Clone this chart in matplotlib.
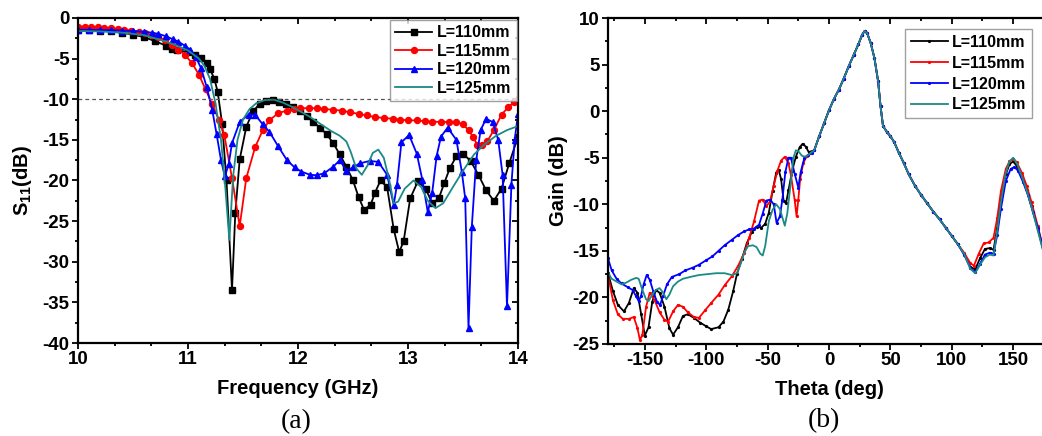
import matplotlib
matplotlib.use('Agg')
import matplotlib.pyplot as plt
from matplotlib.ticker import MultipleLocator, AutoMinorLocator

plt.rcParams['font.family'] = ['Liberation Sans', 'DejaVu Sans']
plt.rcParams['font.weight'] = 'bold'
plt.rcParams['axes.unicode_minus'] = False
plt.rcParams['mathtext.fontset'] = 'custom'
plt.rcParams['mathtext.rm'] = 'Liberation Sans:bold'
plt.rcParams['mathtext.bf'] = 'Liberation Sans:bold'

# =========================
# DATA (a) S11 vs frequency
# =========================
f_110 = [10.0, 10.1, 10.2, 10.3, 10.4, 10.5, 10.6, 10.7, 10.8, 10.85, 10.9, 11.0, 11.06, 11.12,
         11.17, 11.2, 11.24, 11.27, 11.31, 11.35, 11.40, 11.43, 11.47, 11.53, 11.59, 11.65, 11.71,
         11.77, 11.83, 11.89, 11.95, 12.02, 12.08, 12.14, 12.2, 12.26, 12.32, 12.38, 12.44, 12.50,
         12.55, 12.60, 12.66, 12.70, 12.75, 12.81, 12.87, 12.92, 12.96, 13.02, 13.09, 13.16, 13.22,
         13.28, 13.33, 13.38, 13.44, 13.50, 13.57, 13.64, 13.71, 13.78, 13.85, 13.92, 13.99, 14.0]
s11_110 = [-1.5, -1.5, -1.55, -1.65, -1.8, -2.05, -2.35, -2.85, -3.4, -3.8, -3.95, -4.2, -4.5, -4.9,
           -5.6, -6.3, -7.5, -9.1, -13.0, -20.0, -33.5, -24.0, -17.4, -13.4, -11.5, -10.6, -10.25,
           -10.15, -10.3, -10.6, -11.0, -11.5, -12.1, -12.8, -13.5, -14.3, -15.4, -16.8, -18.3, -20.0,
           -22.0, -23.6, -23.0, -21.5, -20.0, -20.8, -26.0, -28.8, -27.5, -22.2, -20.1, -21.0, -22.8,
           -22.2, -20.3, -18.5, -17.0, -16.7, -17.6, -19.3, -21.2, -22.5, -21.0, -17.9, -15.0, -14.6]

f_115 = [10.0, 10.06, 10.12, 10.18, 10.24, 10.30, 10.36, 10.42, 10.48, 10.55, 10.61, 10.67, 10.73,
         10.79, 10.85, 10.91, 10.97, 11.04, 11.1, 11.16, 11.22, 11.28, 11.33, 11.40, 11.47, 11.53,
         11.61, 11.68, 11.74, 11.82, 11.9, 11.96, 12.02, 12.1, 12.17, 12.24, 12.32, 12.4, 12.47,
         12.55, 12.63, 12.7, 12.78, 12.86, 12.93, 13.0, 13.08, 13.15, 13.22, 13.3, 13.37, 13.44,
         13.5, 13.55, 13.59, 13.63, 13.67, 13.72, 13.78, 13.85, 13.91, 13.96, 14.0]
s11_115 = [-1.05, -1.05, -1.1, -1.15, -1.2, -1.25, -1.35, -1.45, -1.55, -1.7, -1.9, -2.1, -2.35,
           -2.75, -3.3, -3.9, -4.5, -5.6, -7.0, -8.8, -10.6, -12.5, -14.4, -19.7, -25.6, -19.7,
           -15.9, -13.8, -12.6, -11.7, -11.4, -11.2, -11.1, -11.1, -11.1, -11.2, -11.3, -11.4, -11.6,
           -11.8, -12.0, -12.2, -12.3, -12.4, -12.5, -12.6, -12.6, -12.7, -12.75, -12.8, -12.8, -12.8,
           -13.1, -13.8, -14.6, -15.6, -15.6, -15.2, -13.8, -11.9, -11.0, -10.4, -10.0]

f_120 = [10.0, 10.1, 10.2, 10.3, 10.4, 10.5, 10.6, 10.67, 10.73, 10.8, 10.86, 10.91, 10.97, 11.02,
         11.07, 11.12, 11.17, 11.22, 11.26, 11.30, 11.335, 11.37, 11.40, 11.47, 11.55, 11.61, 11.68,
         11.74, 11.82, 11.90, 11.97, 12.03, 12.11, 12.17, 12.24, 12.32, 12.38, 12.44, 12.50, 12.56,
         12.65, 12.73, 12.81, 12.87, 12.90, 12.94, 13.01, 13.08, 13.13, 13.18, 13.22, 13.26, 13.30,
         13.36, 13.44, 13.49, 13.52, 13.55, 13.58, 13.62, 13.66, 13.71, 13.77, 13.82, 13.86, 13.90,
         13.94, 13.97, 14.0]
s11_120 = [-1.45, -1.45, -1.5, -1.5, -1.55, -1.6, -1.7, -1.8, -1.95, -2.25, -2.6, -2.9, -3.4, -3.9,
           -4.8, -6.2, -8.5, -11.3, -14.3, -17.5, -19.5, -18.0, -15.4, -12.8, -11.9, -11.9, -13.1,
           -14.0, -15.8, -17.5, -18.4, -18.9, -19.3, -19.35, -19.1, -18.3, -17.5, -18.8, -18.4, -17.9,
           -17.6, -17.7, -19.3, -23.0, -20.5, -15.3, -14.4, -16.7, -19.9, -23.9, -21.5, -17.0, -14.6,
           -13.5, -15.0, -19.0, -22.2, -38.2, -25.7, -17.5, -13.8, -12.4, -12.8, -15.0, -19.3, -35.5,
           -20.5, -15.0, -11.8]

f_125 = [10.0, 10.2, 10.4, 10.6, 10.8, 10.9, 11.0, 11.1, 11.15, 11.2, 11.25, 11.3, 11.34, 11.376,
         11.41, 11.45, 11.5, 11.56, 11.62, 11.7, 11.78, 11.86, 11.94, 12.02, 12.1, 12.2, 12.3, 12.38,
         12.44, 12.48, 12.53, 12.58, 12.63, 12.68, 12.73, 12.78, 12.83, 12.87, 12.91, 12.97, 13.05,
         13.12, 13.18, 13.25, 13.32, 13.4, 13.5, 13.6, 13.7, 13.8, 13.9, 14.0]
s11_125 = [-1.6, -1.65, -1.8, -2.1, -2.9, -3.4, -4.0, -5.0, -5.9, -7.5, -10.5, -15.0, -21.0, -27.3,
           -19.5, -15.0, -12.5, -11.2, -10.5, -10.1, -10.05, -10.4, -10.9, -11.5, -12.1, -13.0, -13.9,
           -14.5, -15.2, -16.5, -18.5, -19.3, -18.2, -16.6, -16.2, -17.2, -20.0, -22.8, -22.6, -21.0,
           -20.0, -20.8, -22.5, -23.4, -22.8, -21.0, -18.8, -16.8, -15.5, -14.5, -13.8, -13.3]

# =========================
# DATA (b) gain vs theta
# =========================
# main lobe, practically identical for all lengths
th_lobe = [-12, -8, -4, 0, 4, 8, 12, 16, 20, 24, 27, 29, 31, 34, 37, 40, 42, 44, 47, 50, 53, 57,
           61, 65, 70, 75, 80, 85, 90, 95, 100, 105]
g_lobe = [-4.2, -2.7, -1.3, 0.1, 1.3, 2.3, 3.5, 4.8, 6.0, 7.2, 8.2, 8.6, 8.4, 7.3, 5.7, 3.2, 0.5,
          -1.6, -2.2, -2.7, -3.3, -4.5, -5.6, -6.8, -8.0, -9.0, -9.9, -10.8, -11.6, -12.5, -13.4,
          -14.3]

th_110_l = [-180, -176, -172, -167, -163, -159, -156, -153, -150, -147, -144, -141, -138, -134,
            -130, -127, -123, -119, -115, -110, -105, -100, -96, -90, -86, -82, -78, -75, -71, -67,
            -63, -59, -55, -52, -49, -46, -43, -41, -39, -37, -35, -33, -30, -27, -24, -21.5, -19,
            -16.5]
g_110_l = [-17.4, -19.3, -20.8, -21.5, -20.6, -19.0, -19.5, -21.8, -24.1, -23.2, -20.5, -19.2,
           -19.5, -21.0, -23.3, -24.0, -23.2, -22.0, -21.8, -22.2, -22.7, -23.1, -23.4, -23.2, -22.6,
           -21.3, -19.3, -17.5, -15.9, -14.2, -13.0, -12.4, -12.5, -12.1, -10.9, -8.6, -6.6, -6.3,
           -7.3, -9.6, -9.9, -8.5, -6.4, -4.9, -3.9, -3.5, -3.8, -4.4]
th_110_r = [110, 115, 119, 123, 127, 131, 134, 137, 140, 144, 147, 150, 153, 157, 161, 165, 170,
            175, 180]
g_110_r = [-15.3, -16.7, -17.0, -15.8, -14.8, -14.7, -14.9, -12.5, -9.5, -6.8, -5.7, -5.4, -5.9,
           -7.0, -8.5, -10.2, -12.6, -15.2, -17.5]

th_115_l = [-180, -176, -172, -168, -163, -159, -156, -154, -152, -149, -146, -142, -138, -134,
            -131, -127, -123, -119, -115, -110, -106, -101, -96, -90, -85, -79, -74, -69, -65, -61,
            -57, -54, -51, -48, -45, -42, -39, -36, -33, -31, -28, -26.4, -25, -23.5, -21, -18, -15]
g_115_l = [-17.6, -20.3, -21.8, -22.3, -22.3, -22.1, -23.3, -24.6, -24.0, -21.0, -19.5, -20.3,
           -21.6, -22.4, -22.6, -21.5, -20.8, -21.0, -21.6, -22.1, -22.2, -21.4, -20.6, -19.7, -18.7,
           -17.7, -16.6, -15.2, -13.6, -11.8, -9.6, -9.5, -10.2, -9.7, -8.0, -6.4, -5.3, -4.9, -5.6,
           -6.9, -9.5, -11.3, -9.5, -7.3, -5.6, -4.8, -4.5]
th_115_r = [110, 115, 118, 122, 126, 130, 134, 137, 140, 144, 147, 150, 153, 157, 161, 165, 170,
            175, 180]
g_115_r = [-15.2, -16.3, -16.6, -15.3, -14.2, -14.1, -13.6, -11.5, -8.6, -6.2, -5.4, -5.1, -5.5,
           -6.6, -8.0, -9.8, -12.3, -15.0, -17.5]

th_120_l = [-180, -177, -173, -169, -164, -160, -157, -155, -153, -151, -148.5, -146, -143, -140,
            -137.6, -135, -132, -128, -122, -117, -111, -106, -100, -95, -90, -85, -79, -74, -69,
            -65, -61, -57, -54, -51, -48, -45, -42.7, -40, -38, -35.5, -33, -31, -28, -25, -23, -20,
            -17, -14]
g_120_l = [-15.8, -17.1, -18.0, -18.5, -18.9, -19.2, -19.9, -20.4, -19.8, -18.6, -17.6, -18.1,
           -19.4, -20.5, -20.8, -19.8, -18.6, -17.8, -17.5, -17.1, -16.8, -16.5, -16.0, -15.6, -15.0,
           -14.4, -13.8, -13.3, -12.9, -12.7, -12.6, -12.2, -11.0, -9.6, -9.5, -10.0, -12.0, -11.3,
           -9.5, -6.5, -5.0, -5.0, -6.7, -8.2, -6.5, -5.0, -4.7, -4.5]
th_120_r = [110, 115, 119, 123, 127, 131, 134, 137, 140, 144, 148, 151, 154, 158, 162, 166, 170,
            175, 180]
g_120_r = [-15.4, -16.8, -17.3, -16.4, -15.4, -15.2, -15.3, -13.3, -10.5, -7.5, -6.2, -6.0, -6.4,
           -7.6, -9.0, -10.8, -12.5, -15.0, -17.5]

th_125_l = [-180, -177, -173, -169, -165, -161, -157, -155, -152, -149, -147, -144, -141, -138,
            -135, -132.5, -130, -127, -123, -119, -113, -106, -99, -92, -85, -79, -75, -72, -69,
            -66, -62, -59, -56, -54, -52, -49, -46, -43, -40, -38, -36, -34, -31, -29, -27, -25,
            -22, -19, -16, -13]
g_125_l = [-17.3, -18.0, -18.3, -18.6, -18.4, -18.1, -17.9, -18.0, -19.2, -20.2, -20.4, -19.7,
           -19.2, -19.0, -19.5, -20.2, -19.7, -18.8, -18.3, -18.0, -17.8, -17.6, -17.5, -17.4, -17.4,
           -17.6, -17.4, -16.4, -15.2, -14.5, -14.4, -14.6, -15.3, -15.5, -14.5, -11.8, -10.6, -10.0,
           -10.5, -11.4, -12.3, -11.0, -7.5, -5.0, -4.2, -4.3, -4.8, -4.9, -4.6, -4.3]
th_125_r = [110, 115, 119, 123, 127, 131, 134, 137, 140, 144, 147, 150, 153, 157, 161, 165, 170,
            175, 180]
g_125_r = [-15.3, -16.9, -17.4, -16.5, -15.7, -15.4, -15.5, -12.8, -9.8, -6.6, -5.4, -5.0, -5.6,
           -7.0, -8.5, -10.3, -12.8, -15.3, -17.8]

labels = ['L=110mm', 'L=115mm', 'L=120mm', 'L=125mm']
colors = ['#000000', '#ff0000', '#0000ff', '#1a8a86']

# =========================
# FIGURE
# =========================
fig = plt.figure(figsize=(10.42, 4.36), dpi=100)
ax1 = fig.add_axes([78 / 1042, 93 / 436, 440 / 1042, 325 / 436])
ax2 = fig.add_axes([608 / 1042, 92 / 436, 442 / 1042, 326 / 436])


def style_axes(ax):
    for sp in ax.spines.values():
        sp.set_linewidth(1.6)
    ax.tick_params(which='both', labelsize=13.5, width=1.3)
    ax.tick_params(which='major', length=4.5)
    ax.tick_params(which='minor', length=2.5)
    ax.tick_params(which='both', top=True, right=True)
    ax.tick_params(axis='x', which='both', direction='out', pad=1.5)
    ax.tick_params(axis='y', which='both', direction='out', pad=1.5)
    # mirrored ticks point inward
    for t in ax.xaxis.get_major_ticks() + ax.xaxis.get_minor_ticks():
        t.tick2line.set_marker(3)
    for t in ax.yaxis.get_major_ticks() + ax.yaxis.get_minor_ticks():
        t.tick2line.set_marker(0)
    for lab in ax.get_xticklabels() + ax.get_yticklabels():
        lab.set_fontweight('bold')


def add_legend(ax, anchor, spacing):
    leg = ax.legend(loc='upper right', bbox_to_anchor=anchor, borderaxespad=0,
                    handlelength=2.3, handletextpad=0.3, labelspacing=spacing, fancybox=False,
                    edgecolor='#888888', borderpad=0.35, prop={'weight': 'bold', 'size': 11.5})
    leg.get_frame().set_linewidth(1.0)
    return leg


# ----- (a)
series_a = [(f_110, s11_110, 's', 4.0), (f_115, s11_115, 'o', 4.3),
            (f_120, s11_120, '^', 4.8), (f_125, s11_125, None, 0)]
for (fx, sy, mk, ms), lab, col in zip(series_a, labels, colors):
    ax1.plot(fx, sy, color=col, lw=1.3, marker=mk, ms=ms, label=lab)
ax1.axhline(-10, color='#555555', lw=0.9, ls=(0, (3, 2.5)))

ax1.set_xlim(10, 14)
ax1.set_ylim(-40, 0)
ax1.xaxis.set_major_locator(MultipleLocator(1))
ax1.xaxis.set_minor_locator(AutoMinorLocator(3))
ax1.yaxis.set_major_locator(MultipleLocator(5))
ax1.yaxis.set_minor_locator(MultipleLocator(2.5))
ax1.set_xlabel('Frequency (GHz)', fontsize=14.5, fontweight='bold', labelpad=8)
ax1.set_ylabel(r'S$_{\mathrm{11}}$(dB)', fontsize=14.5, fontweight='bold', labelpad=6)
style_axes(ax1)
add_legend(ax1, (0.997, 0.995), 0.22)

# ----- (b)
series_b = [(th_110_l, g_110_l, th_110_r, g_110_r, '.'),
            (th_115_l, g_115_l, th_115_r, g_115_r, '.'),
            (th_120_l, g_120_l, th_120_r, g_120_r, '.'),
            (th_125_l, g_125_l, th_125_r, g_125_r, None)]
for (tl, gl, tr, gr, mk), lab, col in zip(series_b, labels, colors):
    th = tl + th_lobe + tr
    g = gl + g_lobe + gr
    ax2.plot(th, g, color=col, lw=1.3, marker=mk, ms=2.6, label=lab)

ax2.set_xlim(-180, 180)
ax2.set_ylim(-25, 10)
ax2.xaxis.set_major_locator(MultipleLocator(50))
ax2.xaxis.set_minor_locator(MultipleLocator(25))
ax2.yaxis.set_major_locator(MultipleLocator(5))
ax2.yaxis.set_minor_locator(MultipleLocator(2.5))
ax2.set_xlabel('Theta (deg)', fontsize=14.5, fontweight='bold', labelpad=8)
ax2.set_ylabel('Gain (dB)', fontsize=14.5, fontweight='bold', labelpad=3)
style_axes(ax2)
add_legend(ax2, (0.96, 0.965), 0.36)

fig.text(296 / 1042, 1 - 422 / 436, '(a)', ha='center', va='center',
         fontsize=20, family='Liberation Serif', fontweight='normal')
fig.text(824 / 1042, 1 - 421 / 436, '(b)', ha='center', va='center',
         fontsize=20, family='Liberation Serif', fontweight='normal')

fig.savefig('out.png', dpi=100)
